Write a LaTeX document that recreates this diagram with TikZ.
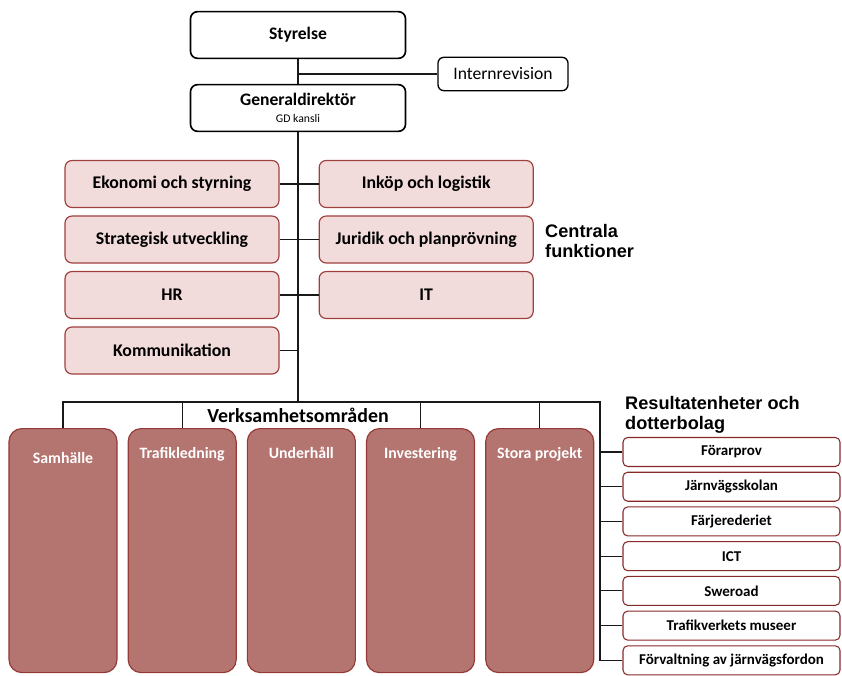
\documentclass[tikz,border=0pt]{standalone}
\usepackage{fontspec}
\setmainfont{Carlito}
\newfontfamily\headfont{Liberation Sans}
\usetikzlibrary{positioning}
\definecolor{funcfill}{RGB}{242, 220, 219}
\definecolor{funcline}{RGB}{160, 64, 61}
\definecolor{areafill}{RGB}{180, 116, 112}
\definecolor{arealine}{RGB}{150, 58, 55}
\definecolor{unitline}{RGB}{135, 40, 40}
\definecolor{wire}{RGB}{25, 25, 25}

\begin{document}
\begin{tikzpicture}[
            x=0.03cm, y=-0.03cm,
            topbox/.style={draw=black, line width=1.4pt, rounded corners=6pt, minimum width=6.45cm, minimum height=1.4cm, align=center, font=\fontsize{15}{17}\selectfont\bfseries},
            revbox/.style={draw=black, line width=1.1pt, rounded corners=5pt, minimum width=3.9cm, minimum height=1cm, font=\fontsize{15}{17}\selectfont},
            funcbox/.style={draw=funcline, fill=funcfill, line width=1pt, rounded corners=6pt, minimum width=6.42cm, minimum height=1.41cm, font=\fontsize{15.2}{17}\selectfont\bfseries},
            areabox/.style={draw=arealine, fill=areafill, line width=1pt, rounded corners=11pt, minimum width=3.24cm, minimum height=7.32cm, anchor=north},
            areatext/.style={text=white, font=\fontsize{13.5}{16}\selectfont\bfseries},
            unitbox/.style={draw=unitline, line width=0.9pt, rounded corners=4pt, minimum width=6.51cm, minimum height=0.87cm, font=\fontsize{12.8}{15}\selectfont\bfseries},
            heading/.style={align=left, inner sep=0pt, font=\headfont\fontsize{15.5}{17.5}\selectfont\bfseries},
            wire/.style={draw=wire, line width=1pt}
        ]
            \useasboundingbox (0,0) rectangle (842,676);

            % top of the organisation
            \node[topbox] (styr) at (298,35) {Styrelse};
            \node[revbox] (intrev) at (503,74) {Internrevision};
            \node[topbox] (gd) at (298,108) {Generaldirektör\\[-3pt]{\fontsize{10}{11}\selectfont\mdseries GD kansli}};

            % central functions
            \node[funcbox] (ekon) at (172,184) {Ekonomi och styrning};
            \node[funcbox, right=1.17cm of ekon] (inkop) {Inköp och logistik};
            \node[funcbox, below=0.22cm of ekon] (strat) {Strategisk utveckling};
            \node[funcbox, right=1.17cm of strat] (jur) {Juridik och planprövning};
            \node[funcbox, below=0.22cm of strat] (hr) {HR};
            \node[funcbox, right=1.17cm of hr] (it) {IT};
            \node[funcbox, below=0.22cm of hr] (komm) {Kommunikation};
            \node[heading, anchor=west] (central) at (545,241) {Centrala\\funktioner};

            % business areas
            \node[areabox, label={[areatext, anchor=north, yshift=-0.62cm]north:Samhälle}] (samh) at (63,428) {};
            \node[areabox, right=0.3cm of samh, label={[areatext, anchor=north, yshift=-0.46cm]north:Trafikledning}] (traf) {};
            \node[areabox, right=0.3cm of traf, label={[areatext, anchor=north, yshift=-0.46cm]north:Underhåll}] (underh) {};
            \node[areabox, right=0.3cm of underh, label={[areatext, anchor=north, yshift=-0.46cm]north:Investering}] (invest) {};
            \node[areabox, right=0.3cm of invest, label={[areatext, anchor=north, yshift=-0.46cm]north:Stora projekt}] (stora) {};
            \node[font=\fontsize{17}{19}\selectfont\bfseries] (verks) at (298,415) {Verksamhetsområden};

            % result units and subsidiaries
            \node[heading, anchor=north west] (result) at (625,396) {Resultatenheter och\\dotterbolag};
            \node[unitbox] (forar) at (731.5,452) {Förarprov};
            \node[unitbox, below=0.14cm of forar] (jvskol) {Järnvägsskolan};
            \node[unitbox, below=0.14cm of jvskol] (farje) {Färjerederiet};
            \node[unitbox, below=0.14cm of farje] (ict) {ICT};
            \node[unitbox, below=0.14cm of ict] (swer) {Sweroad};
            \node[unitbox, below=0.14cm of swer] (museer) {Trafikverkets museer};
            \node[unitbox, below=0.14cm of museer] (forv) {Förvaltning av järnvägsfordon};

            % connectors
            \coordinate (rtop) at (600,402);
            \draw[wire] (styr.south) -- (gd.north);
            \draw[wire] (intrev.west) -- (intrev.west -| styr.south);
            \draw[wire] (gd.south) -- (gd.south |- rtop);
            \draw[wire] (ekon.east) -- (inkop.west);
            \draw[wire] (strat.east) -- (jur.west);
            \draw[wire] (hr.east) -- (it.west);
            \draw[wire] (komm.east) -- (komm.east -| gd.south);
            \draw[wire] (samh.north) |- (rtop) |- (forv.west);
            \draw[wire] (traf.north) -- (traf.north |- rtop);
            \draw[wire] (invest.north) -- (invest.north |- rtop);
            \draw[wire] (stora.north) -- (stora.north |- rtop);
            \draw[wire] (forar.west) -- (forar.west -| rtop);
            \draw[wire] (jvskol.west) -- (jvskol.west -| rtop);
            \draw[wire] (farje.west) -- (farje.west -| rtop);
            \draw[wire] (ict.west) -- (ict.west -| rtop);
            \draw[wire] (swer.west) -- (swer.west -| rtop);
            \draw[wire] (museer.west) -- (museer.west -| rtop);
        \end{tikzpicture}
\end{document}
